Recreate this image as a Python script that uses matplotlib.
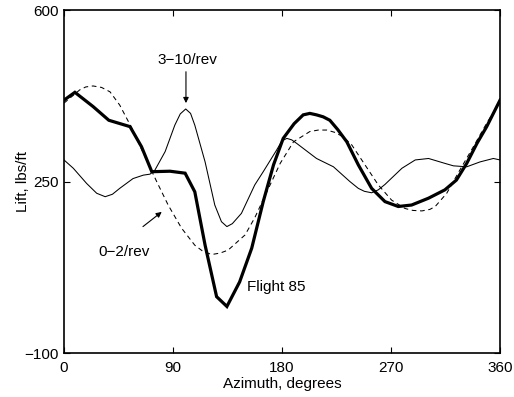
import matplotlib
matplotlib.use("Agg")
import matplotlib.pyplot as plt

plt.rcParams['font.family'] = ['Liberation Sans', 'DejaVu Sans']
plt.rcParams['axes.unicode_minus'] = True

# Measured blade lift, Flight 85 (azimuth deg, lift lbs/ft)
flight_az = [0, 9, 24, 37, 54.5, 64, 72.5, 87.5, 100, 108, 116.5, 126, 134.5,
             145, 155, 164.5, 173, 181, 190, 197.5, 203, 208.5, 214, 219.5,
             226, 233.5, 243, 254, 265, 276, 287, 301, 314.5, 324, 332.5,
             341, 349, 360]
flight_lift = [416, 432, 403, 375, 362, 321, 270, 271, 267, 229, 120, 15, -5,
               45, 114, 209, 284, 338, 368, 386, 389, 386, 382, 375,
               356, 331, 284, 236, 209, 199, 202, 216, 233, 253, 287,
               328, 362, 416]

# Harmonic content 3-10/rev
high_az = [0, 7.7, 18.7, 27, 34, 40, 46, 57, 65.5, 71, 75, 83.5, 91.5, 96,
           100.5, 104.5, 108, 116.5, 124.5, 130, 134.5, 139, 146.5, 157.5,
           164.5, 175.5, 180, 184, 188, 192, 208.5, 222.5, 236, 243, 248,
           254, 259.5, 265, 279, 290, 301, 314.5, 321.5, 332.5, 343.5,
           354.5, 360]
high_lift = [294, 277, 246, 226, 219, 224, 236, 256, 263, 265, 273, 311, 365,
             388, 398, 389, 365, 290, 202, 168, 158, 164, 185, 243,
             270, 314, 333, 338, 335, 328, 297, 280, 250, 236, 230,
             227, 233, 244, 277, 294, 297, 287, 282, 280, 290,
             297, 294]

# Harmonic content 0-2/rev
low_az = [0, 13, 18, 24, 31, 38, 46, 56, 65.5, 76.5, 86, 97, 108, 115, 122,
          129, 135.5, 149.5, 157.5, 167.5, 178.5, 189.5, 203, 210, 217, 224,
          230.5, 237.5, 248.5, 259.5, 270.5, 281.5, 288, 295.5, 302, 306.5,
          316, 327, 338, 349, 360]
low_lift = [410, 437, 443, 445, 442, 433, 406, 359, 308, 250, 202, 155, 120,
            107, 101, 104, 110, 141, 176, 229, 287, 331, 352, 355, 355, 350,
            341, 325, 284, 243, 212, 195, 191, 190, 193, 199,
            226, 274, 321, 369, 412]

x_ticks = [0, 90, 180, 270, 360]
y_ticks = [-100, 250, 600]

fig = plt.figure(figsize=(5.14, 3.97), dpi=100)
ax = fig.add_axes([0.1245, 0.1108, 0.8483, 0.864])

ax.plot(high_az, high_lift, color='k', lw=0.75)
ax.plot(low_az, low_lift, color='k', lw=0.75, dashes=(4.5, 3.5))
ax.plot(flight_az, flight_lift, color='k', lw=2.3, solid_joinstyle='miter')

ax.set_xlim(0, 360)
ax.set_ylim(-100, 600)
ax.set_xticks(x_ticks)
ax.set_yticks(y_ticks)
ax.set_xticklabels([str(v) for v in x_ticks])
ax.set_yticklabels(['\u2212100', '250', '600'])
ax.tick_params(direction='in', length=4, width=0.8, top=True, right=True,
               labelsize=11, pad=4)
ax.tick_params(axis='x', pad=6)
for s in ax.spines.values():
    s.set_linewidth(1.2)

ax.set_xlabel('Azimuth, degrees', fontsize=11, labelpad=1)
ax.set_ylabel('Lift, lbs/ft', fontsize=11, labelpad=-4)

arrow = dict(arrowstyle='-|>', color='k', lw=0.8, mutation_scale=8,
             shrinkA=0, shrinkB=0)
ax.text(102, 498, '3\u221210/rev', ha='center', va='center', fontsize=11)
ax.annotate('', xy=(100.7, 410), xytext=(100.7, 474), arrowprops=arrow)
ax.text(49.5, 106, '0\u22122/rev', ha='center', va='center', fontsize=11)
ax.annotate('', xy=(80.7, 188), xytext=(65.2, 158), arrowprops=arrow)
ax.text(151, 35, 'Flight 85', ha='left', va='center', fontsize=11)

fig.savefig('out.png', dpi=100)
